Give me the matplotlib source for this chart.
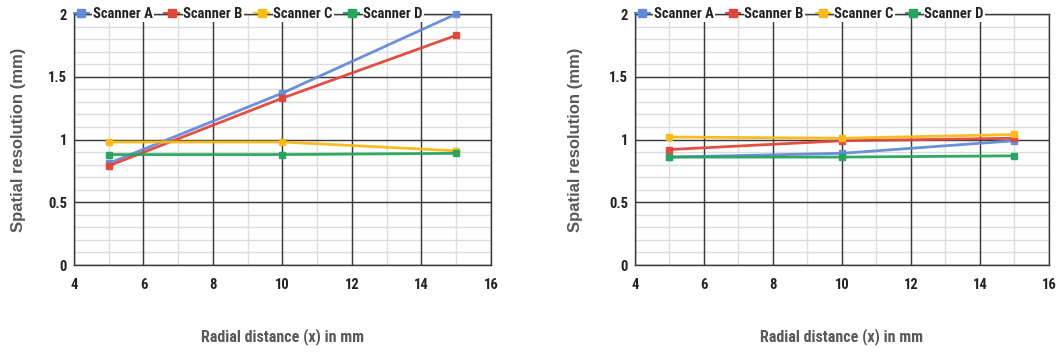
import matplotlib
matplotlib.use("Agg")
import matplotlib.pyplot as plt
import numpy as np
from matplotlib.lines import Line2D

# ===== DATA =====
RADIAL_DISTANCE = [5, 10, 15]
SCANNERS = ["Scanner A", "Scanner B", "Scanner C", "Scanner D"]

LEFT_A = [0.81, 1.37, 2.00]
LEFT_B = [0.79, 1.33, 1.83]
LEFT_C = [0.98, 0.98, 0.91]
LEFT_D = [0.88, 0.88, 0.89]

RIGHT_A = [0.86, 0.89, 0.99]
RIGHT_B = [0.92, 0.99, 1.01]
RIGHT_C = [1.02, 1.01, 1.04]
RIGHT_D = [0.86, 0.86, 0.87]

X_TICKS = [4, 6, 8, 10, 12, 14, 16]
Y_TICKS = [0, 0.5, 1, 1.5, 2]
Y_TICK_LABELS = ["0", "0.5", "1", "1.5", "2"]
X_LABEL = "Radial distance (x) in mm"
Y_LABEL = "Spatial resolution (mm)"

# ===== STYLE =====
COLORS = ["#648BD6", "#E0463C", "#F8BA18", "#25A55F"]
MAJOR_GRID = "#3a3a3a"
MINOR_GRID = "#dcdcdc"
LABEL_COLOR = "#595959"
NARROW = ["Roboto Condensed", "DejaVu Sans"]
REGULAR = ["Liberation Sans", "DejaVu Sans"]


def draw_grid(ax):
    x0, x1 = ax.get_xlim()
    y0, y1 = ax.get_ylim()
    for x in np.arange(x0, x1 + 0.01, 1.0):
        ax.axvline(x, color=MINOR_GRID, linewidth=1.0, zorder=0.5)
    for y in np.arange(y0, y1 + 0.001, 0.1):
        ax.axhline(y, color=MINOR_GRID, linewidth=1.0, zorder=0.5)
    for x in X_TICKS:
        ax.axvline(x, color=MAJOR_GRID, linewidth=1.0, zorder=1)
    for y in Y_TICKS:
        ax.axhline(y, color=MAJOR_GRID, linewidth=1.0, zorder=1)


def style_axes(ax, ylabel_pad):
    ax.set_xlim(4, 16)
    ax.set_ylim(0, 2)
    ax.set_xticks(X_TICKS)
    ax.set_yticks(Y_TICKS)
    ax.set_yticklabels(Y_TICK_LABELS)
    draw_grid(ax)
    ax.tick_params(which="both", length=0)
    ax.tick_params(axis="y", pad=5)
    ax.tick_params(axis="x", pad=9)
    for lab in ax.get_xticklabels() + ax.get_yticklabels():
        lab.set_family(NARROW)
        lab.set_fontweight("bold")
        lab.set_fontsize(10.5)
        lab.set_color("#222222")
    for sp in ax.spines.values():
        sp.set_color(MAJOR_GRID)
        sp.set_linewidth(1.0)
    ax.set_xlabel(X_LABEL, family=NARROW, fontweight="bold", fontsize=11.5,
                  color=LABEL_COLOR, labelpad=26)
    ax.set_ylabel(Y_LABEL, family=REGULAR, fontweight="bold", fontsize=12,
                  color=LABEL_COLOR, labelpad=ylabel_pad)


def draw_panel(ax, series, ylabel_pad):
    for values, color in zip(series, COLORS):
        ax.plot(RADIAL_DISTANCE, values, color=color, linewidth=2.0,
                marker="s", markersize=5, alpha=0.95, clip_on=False, zorder=3)
    style_axes(ax, ylabel_pad)
    handles = [Line2D([0], [0], color=c, linewidth=1.5, marker="s", markersize=6)
               for c in COLORS]
    leg = ax.legend(handles, SCANNERS, ncol=4, loc="center left",
                    bbox_to_anchor=(0.0, 1.0), frameon=False, borderaxespad=0,
                    handlelength=1.0, handletextpad=0.3, columnspacing=0.8,
                    borderpad=0, prop={"family": NARROW, "weight": "bold", "size": 10.5})
    for txt in leg.get_texts():
        txt.set_color("#222222")
        txt.set_bbox(dict(facecolor="white", edgecolor="none", pad=0.5))
    leg.set_zorder(5)


fig = plt.figure(figsize=(10.61, 3.54), dpi=100)
ax_left = fig.add_axes([0.0697, 0.2514, 0.393, 0.709])
ax_right = fig.add_axes([0.5985, 0.2514, 0.390, 0.709])

draw_panel(ax_left, [LEFT_A, LEFT_B, LEFT_C, LEFT_D], 16)
draw_panel(ax_right, [RIGHT_A, RIGHT_B, RIGHT_C, RIGHT_D], 19)

fig.savefig("out.png", dpi=100, facecolor="white")
